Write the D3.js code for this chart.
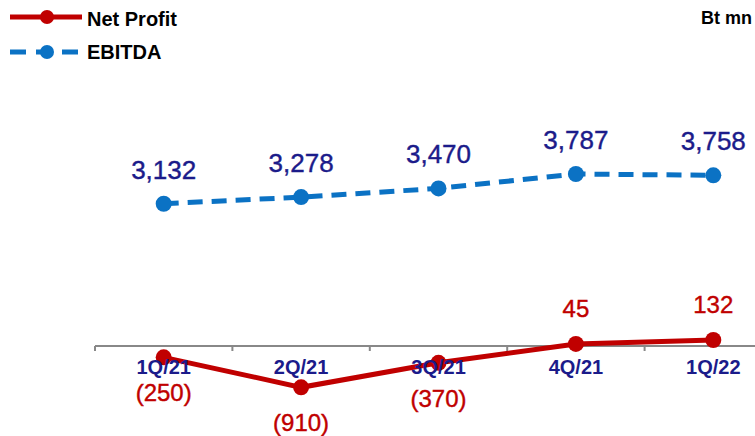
<!DOCTYPE html>
<html>
<head>
<meta charset="utf-8">
<script src="https://cdn.jsdelivr.net/npm/d3@7"></script>
<style>
  body { margin: 0; background: #fff; }
  svg { display: block; font-family: Arial, "Liberation Sans", sans-serif; }
</style>
</head>
<body>
<div id="chart"></div>
<script>
// Chart data
const quarters = ["1Q/21", "2Q/21", "3Q/21", "4Q/21", "1Q/22"];
const netProfit = [-250, -910, -370, 45, 132];
const ebitda = [3132, 3278, 3470, 3787, 3758];
const netLabels = ["(250)", "(910)", "(370)", "45", "132"];
const ebitdaLabels = ["3,132", "3,278", "3,470", "3,787", "3,758"];

const width = 755;
const height = 436;

const red = "#c00000";
const blue = "#0b72c4";
const navy = "#1b1b8a";

const svg = d3.select("#chart").append("svg")
  .attr("width", width)
  .attr("height", height);

// Scales
const x = d3.scaleBand()
  .domain(quarters)
  .range([95, 782]);

const y = d3.scaleLinear()
  .domain([0, 3787])
  .range([346, 174]);

const cx = d => x(d) + x.bandwidth() / 2;

// Category axis at zero
svg.append("line")
  .attr("x1", 95).attr("x2", width)
  .attr("y1", y(0)).attr("y2", y(0))
  .attr("stroke", "#888").attr("stroke-width", 2);

svg.selectAll(".tick-mark")
  .data(quarters)
  .join("line")
  .attr("class", "tick-mark")
  .attr("x1", d => x(d)).attr("x2", d => x(d))
  .attr("y1", y(0)).attr("y2", y(0) + 5)
  .attr("stroke", "#888").attr("stroke-width", 2);

const line = d3.line();

// EBITDA series
const ebitdaPts = quarters.map((q, i) => [cx(q), y(ebitda[i])]);
svg.append("path")
  .attr("d", line(ebitdaPts))
  .attr("fill", "none")
  .attr("stroke", blue)
  .attr("stroke-width", 5)
  .attr("stroke-dasharray", "15,9");
svg.selectAll(".ebitda-dot")
  .data(ebitdaPts)
  .join("circle")
  .attr("cx", d => d[0]).attr("cy", d => d[1])
  .attr("r", 8).attr("fill", blue);
svg.selectAll(".ebitda-label")
  .data(ebitdaLabels)
  .join("text")
  .attr("x", (d, i) => ebitdaPts[i][0])
  .attr("y", (d, i) => ebitdaPts[i][1] - 25)
  .attr("text-anchor", "middle")
  .attr("fill", navy)
  .attr("stroke", navy).attr("stroke-width", 0.4)
  .attr("font-size", 26)
  .text(d => d);

// Net profit series
const netPts = quarters.map((q, i) => [cx(q), y(netProfit[i])]);
svg.append("path")
  .attr("d", line(netPts))
  .attr("fill", "none")
  .attr("stroke", red)
  .attr("stroke-width", 5);
svg.selectAll(".net-dot")
  .data(netPts)
  .join("circle")
  .attr("cx", d => d[0]).attr("cy", d => d[1])
  .attr("r", 8).attr("fill", red);

// Category labels (drawn over the red line, like the reference)
const axis = svg.append("g")
  .attr("transform", `translate(0,${y(0)})`)
  .call(d3.axisBottom(x).tickSize(0).tickPadding(14));
axis.select(".domain").remove();
axis.selectAll("text")
  .attr("fill", navy)
  .attr("font-size", 20)
  .attr("font-weight", "bold")
  .attr("font-family", "Arial, 'Liberation Sans', sans-serif");

svg.selectAll(".net-label")
  .data(netLabels)
  .join("text")
  .attr("x", (d, i) => netPts[i][0])
  .attr("y", (d, i) => netProfit[i] < 0 ? netPts[i][1] + 44 : netPts[i][1] - 27)
  .attr("text-anchor", "middle")
  .attr("fill", red)
  .attr("stroke", red).attr("stroke-width", 0.4)
  .attr("font-size", 24)
  .text(d => d);

// Legend
const legend = svg.append("g");
legend.append("line")
  .attr("x1", 10).attr("x2", 82).attr("y1", 17).attr("y2", 17)
  .attr("stroke", red).attr("stroke-width", 5);
legend.append("circle").attr("cx", 47).attr("cy", 17).attr("r", 7).attr("fill", red);
legend.append("text")
  .attr("x", 87).attr("y", 26)
  .attr("font-size", 20).attr("font-weight", "bold")
  .text("Net Profit");
legend.append("line")
  .attr("x1", 10).attr("x2", 82).attr("y1", 52).attr("y2", 52)
  .attr("stroke", blue).attr("stroke-width", 5)
  .attr("stroke-dasharray", "16,10");
legend.append("circle").attr("cx", 47).attr("cy", 52).attr("r", 7).attr("fill", blue);
legend.append("text")
  .attr("x", 87).attr("y", 59)
  .attr("font-size", 20).attr("font-weight", "bold")
  .text("EBITDA");

svg.append("text")
  .attr("x", 752).attr("y", 24)
  .attr("text-anchor", "end")
  .attr("font-size", 18).attr("font-weight", "bold")
  .text("Bt mn");
</script>
</body>
</html>
